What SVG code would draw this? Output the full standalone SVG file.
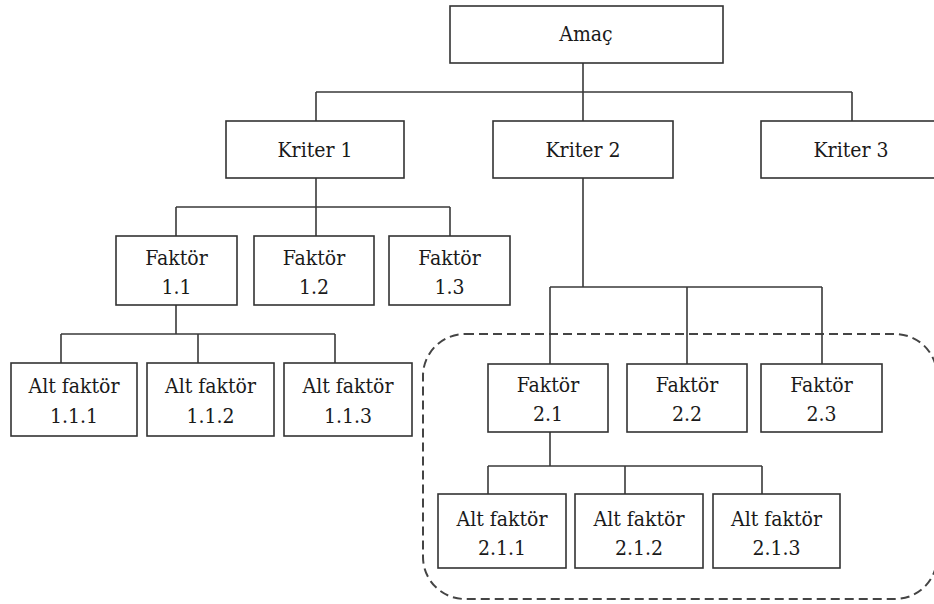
<svg xmlns="http://www.w3.org/2000/svg" width="934" height="604" viewBox="0 0 934 604">
<style>
.box{fill:#fff;stroke:#333;stroke-width:1.6}
.ln{fill:none;stroke:#3a3a3a;stroke-width:1.6}
.dash{fill:none;stroke:#444;stroke-width:2;stroke-dasharray:9 5}
text{font-family:'DejaVu Serif Condensed','DejaVu Serif',serif;font-stretch:condensed;font-size:21px;fill:#1a1a1a;text-anchor:middle}
</style>
<rect width="934" height="604" fill="#fff"/>
<rect class="dash" x="423" y="334" width="514" height="265" rx="42" ry="42"/>
<g id="connectors">
<path class="ln" d="M583 63V121M316 92H852M316 92V121M852 92V121"/>
<path class="ln" d="M316 178V207M176 207H450M176 207V236M316 207V236M450 207V236"/>
<path class="ln" d="M176 305V334M61 334H335M61 334V363M198 334V363M335 334V363"/>
<path class="ln" d="M583 178V287M550 287H822M550 287V364M687 287V364M822 287V364"/>
<path class="ln" d="M550 432V466M488 466H762M488 466V494M625 466V494M762 466V494"/>
</g>
<g id="amac"><rect class="box" x="450" y="6" width="273" height="57"/><text x="586" y="41">Amaç</text></g>
<g id="kriter1"><rect class="box" x="226" y="121" width="178" height="57"/><text x="315" y="157">Kriter 1</text></g>
<g id="kriter2"><rect class="box" x="493" y="121" width="180" height="57"/><text x="583" y="157">Kriter 2</text></g>
<g id="kriter3"><rect class="box" x="761" y="121" width="180" height="57"/><text x="851" y="157">Kriter 3</text></g>
<g id="f11"><rect class="box" x="116" y="236" width="121" height="69"/><text x="176.5" y="265">Faktör</text><text x="176.5" y="294">1.1</text></g>
<g id="f12"><rect class="box" x="254" y="236" width="120" height="69"/><text x="314" y="265">Faktör</text><text x="314" y="294">1.2</text></g>
<g id="f13"><rect class="box" x="389" y="236" width="121" height="69"/><text x="449.5" y="265">Faktör</text><text x="449.5" y="294">1.3</text></g>
<g id="a111"><rect class="box" x="11" y="363" width="126" height="73"/><text x="74" y="393">Alt faktör</text><text x="74" y="423">1.1.1</text></g>
<g id="a112"><rect class="box" x="147" y="363" width="127" height="73"/><text x="210.5" y="393">Alt faktör</text><text x="210.5" y="423">1.1.2</text></g>
<g id="a113"><rect class="box" x="284" y="363" width="128" height="73"/><text x="348" y="393">Alt faktör</text><text x="348" y="423">1.1.3</text></g>
<g id="f21"><rect class="box" x="488" y="364" width="120" height="68"/><text x="548" y="392">Faktör</text><text x="548" y="421">2.1</text></g>
<g id="f22"><rect class="box" x="627" y="364" width="120" height="68"/><text x="687" y="392">Faktör</text><text x="687" y="421">2.2</text></g>
<g id="f23"><rect class="box" x="761" y="364" width="121" height="68"/><text x="821.5" y="392">Faktör</text><text x="821.5" y="421">2.3</text></g>
<g id="a211"><rect class="box" x="438" y="494" width="128" height="74"/><text x="502" y="526">Alt faktör</text><text x="502" y="555">2.1.1</text></g>
<g id="a212"><rect class="box" x="575" y="494" width="128" height="74"/><text x="639" y="526">Alt faktör</text><text x="639" y="555">2.1.2</text></g>
<g id="a213"><rect class="box" x="713" y="494" width="127" height="74"/><text x="776.5" y="526">Alt faktör</text><text x="776.5" y="555">2.1.3</text></g>
</svg>
